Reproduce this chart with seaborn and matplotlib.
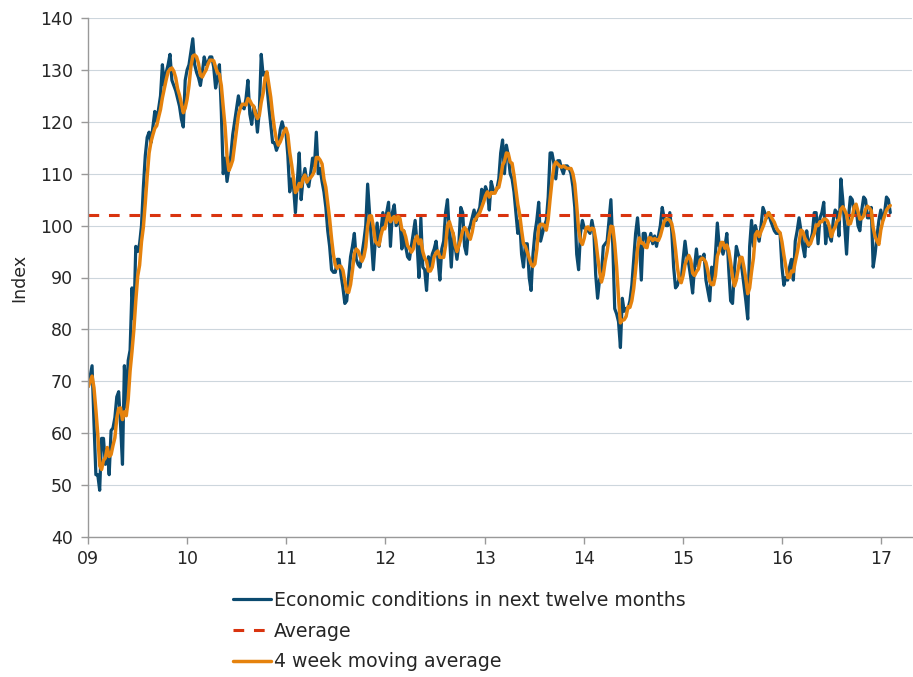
import numpy as np
import pandas as pd
import matplotlib
matplotlib.use("Agg")
import matplotlib.pyplot as plt
import seaborn as sns

# Weekly index readings, one list per year
y2009 = [69, 71, 73, 62, 52, 52, 49, 59, 59, 54, 57, 52, 60.5, 61, 63, 67, 68, 61.5, 54, 73,
         65, 74, 76, 88, 82, 96, 95, 96.5, 100, 107.5, 113.5, 117, 118, 116, 119, 122, 120, 122.5,
         125, 131, 127, 129.5, 131, 133, 128, 127, 126, 124.5, 123, 120.5, 119, 128]
y2010 = [130, 131, 133.5, 136, 131, 129.5, 128.5, 127, 129.5, 132.5, 131, 131.5, 132.5, 132.5,
         130.5, 126.5, 128.5, 131, 122, 110, 113, 108.5, 111, 113.5, 117.5, 120, 122.5, 125, 123,
         123, 122.5, 124.5, 128, 121.5, 119.5, 123, 122, 118, 122, 133, 129, 129.5, 127, 123,
         119.5, 116, 116, 114.5, 115.5, 118.5, 120, 118.5]
y2011 = [118, 113.5, 106.5, 109, 107.5, 102.5, 108.5, 114, 105, 109, 111, 108.5, 107.5, 110, 113,
         111.5, 118, 110, 111, 108.5, 106.5, 103.5, 99, 96, 91.5, 91, 91, 93.5, 93.5, 90.5, 88, 85,
         85.5, 90, 94, 96, 98.5, 93.5, 92.5, 92, 94.5, 97, 100, 108, 102.5, 97, 91.5, 97, 100.5,
         96, 99, 102.5]
y2012 = [100, 102.5, 104.5, 96, 102.5, 104, 100, 100.5, 101, 95.5, 99, 96, 94, 93.5, 96, 98.5,
         101, 96.5, 90, 101.5, 92, 91.5, 87.5, 94, 92, 94.5, 95.5, 97, 93.5, 89.5, 95.5, 97, 102.5,
         105, 98.5, 92, 98.5, 96, 93.5, 96.5, 103.5, 102.5, 96, 94.5, 99, 100, 101.5, 103, 101,
         102.5, 103.5, 107]
y2013 = [105, 107.5, 106.5, 103, 108.5, 107, 106.5, 107, 109, 114, 116.5, 110, 115.5, 113.5, 110,
         109, 106.5, 102.5, 98.5, 101, 94.5, 92, 96.5, 96.5, 90, 87.5, 94.5, 98.5, 101, 104.5, 97,
         98.5, 100, 101, 105.5, 114, 114, 112, 109, 112.5, 112.5, 111, 110, 111.5, 111.5, 111,
         110, 107.5, 103.5, 94.5, 91.5, 98.5]
y2014 = [101, 99.5, 99.5, 99, 98.5, 101, 99, 90.5, 86, 89.5, 90.5, 96, 96.5, 97, 101, 105, 96, 84,
         83, 81.5, 76.5, 86, 83.5, 84, 84, 85.5, 88.5, 93.5, 98.5, 101.5, 97, 89.5, 98.5, 98.5,
         96.5, 97, 98.5, 96.5, 98, 96, 98, 100, 103.5, 101.5, 100, 100, 102.5, 99, 92, 88, 88.5, 90]
y2015 = [89.5, 93.5, 97, 94, 92.5, 90, 87, 92, 95.5, 92, 94, 93.5, 94.5, 89.5, 87.5, 85.5, 92,
         89.5, 94.5, 100.5, 96, 96, 94.5, 96, 98.5, 91.5, 85.5, 85, 91.5, 96, 94.5, 93.5, 91.5,
         88.5, 85.5, 82, 96, 101, 96, 100, 98.5, 97, 100, 103.5, 102.5, 101.5, 102.5, 101, 100, 99,
         98.5, 98.5]
y2016 = [98.5, 92, 88.5, 90, 89.5, 92, 93.5, 89.5, 97, 99, 101.5, 99, 96, 94, 99, 96, 97, 98.5,
         102.5, 102.5, 96.5, 101.5, 102.5, 104.5, 96.5, 100, 98, 97, 101, 103, 102.5, 98, 109, 105,
         100, 94.5, 101.5, 105.5, 105, 102.5, 103.5, 100, 99, 103, 105.5, 105, 101.5, 101.5, 103.5,
         92, 94.5, 98]
y2017 = [101, 103, 101, 102.5, 105.5, 105, 102.5]

average = 102
year_labels = ["09", "10", "11", "12", "13", "14", "15", "16", "17"]
series_names = ["Economic conditions in next twelve months", "Average", "4 week moving average"]

values = y2009 + y2010 + y2011 + y2012 + y2013 + y2014 + y2015 + y2016 + y2017
df = pd.DataFrame({
    "date": pd.date_range("2009-01-02", periods=len(values), freq="7D"),
    "index": values,
})
df["ma"] = df["index"].rolling(4, min_periods=1).mean()
avg_df = pd.DataFrame({"date": [df["date"].iloc[0], df["date"].iloc[-1]],
                       "avg": [average, average]})

sns.set_style("white")
plt.rcParams["font.family"] = ["DejaVu Sans"]

fig = plt.figure(figsize=(9.13, 6.77), dpi=100)
ax = fig.add_axes([88 / 913, 1 - 537 / 677, 824 / 913, 519 / 677])

sns.lineplot(data=df, x="date", y="index", ax=ax, color="#0b4a6f", linewidth=2.3,
             label=series_names[0])
sns.lineplot(data=avg_df, x="date", y="avg", ax=ax, color="#d9340f", linewidth=2.2,
             dashes=False, label=series_names[1]).lines[-1].set_dashes((3.5, 3.2))
sns.lineplot(data=df, x="date", y="ma", ax=ax, color="#e5820d", linewidth=2.5,
             label=series_names[2])

ax.set_ylim(40, 140)
ax.set_yticks(range(40, 141, 10))
ax.set_xlim(pd.Timestamp("2009-01-01"), pd.Timestamp("2017-04-24"))
ax.set_xticks(pd.to_datetime([f"20{y}-01-01" for y in year_labels]))
ax.set_xticklabels(year_labels)
ax.set_xlabel("")
ax.set_ylabel("Index", fontsize=12.5, labelpad=8)

ax.yaxis.grid(True, color="#cdd6dd", linewidth=0.8)
ax.set_axisbelow(True)
for side in ["top", "right"]:
    ax.spines[side].set_visible(False)
for side in ["left", "bottom"]:
    ax.spines[side].set_color("#999999")
    ax.spines[side].set_linewidth(1)
ax.tick_params(axis="both", direction="out", length=5, width=1, color="#999999",
               labelsize=12.5, left=True, bottom=True)
ax.tick_params(axis="y", pad=6)
ax.tick_params(axis="x", pad=4)

ax.legend(loc="upper left", bbox_to_anchor=(233 / 913, 1 - 591 / 677),
          bbox_transform=fig.transFigure, frameon=False, fontsize=13.6,
          handlelength=2.0, handletextpad=0.16, labelspacing=0.62,
          borderaxespad=0, borderpad=0)

fig.savefig("out.png", dpi=100)
